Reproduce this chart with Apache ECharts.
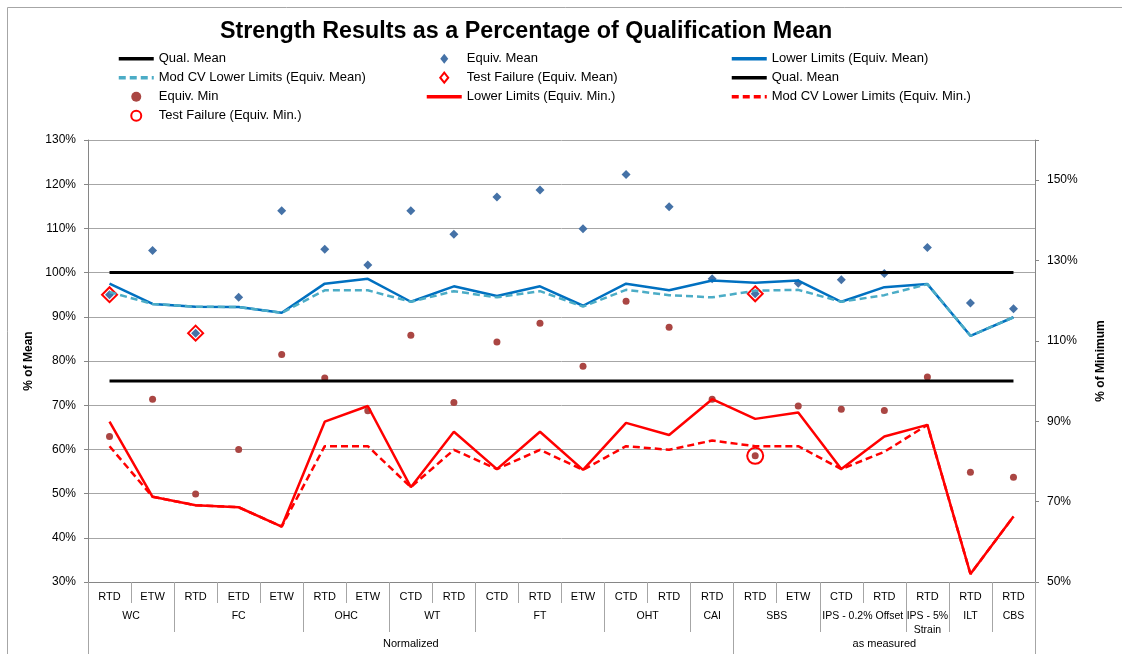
<!DOCTYPE html>
<html><head><meta charset="utf-8">
<script src="https://cdn.jsdelivr.net/npm/echarts@6/dist/echarts.min.js"></script>
<style>html,body{margin:0;padding:0;background:#fff}#c{width:1122px;height:654px}</style>
</head><body><div id="c"></div>
<script>
// ---- data ----
const categories = ['RTD','ETW','RTD','ETD','ETW','RTD','ETW','CTD','RTD','CTD','RTD','ETW','CTD','RTD','RTD','RTD','ETW','CTD','RTD','RTD','RTD','RTD'];
const groupNames = ['WC','FC','OHC','WT','FT','OHT','CAI','SBS','IPS - 0.2% Offset','IPS - 5%\nStrain','ILT','CBS'];
const groupSizes = [2,3,2,2,3,2,1,2,2,1,1,1];
const sectionNames = ['Normalized','as measured'];
const sectionSizes = [15,7];

const leftTicks = [30,40,50,60,70,80,90,100,110,120,130];
const rightTicks = [50,70,90,110,130,150];

const qualMeanLeft = [100,100,100,100,100,100,100,100,100,100,100,100,100,100,100,100,100,100,100,100,100,100];
const equivMean = [95.0,105.0,86.3,94.4,114.0,105.3,101.7,114.0,108.7,117.1,118.7,109.9,122.2,114.9,98.6,95.2,97.6,98.4,99.8,105.7,93.1,91.8];
const lowerLimitsMean = [97.5,92.9,92.3,92.2,90.9,97.5,98.6,93.4,96.9,94.7,96.9,92.5,97.5,96.0,98.2,97.7,98.2,93.4,96.7,97.4,85.7,89.9];
const modCvLowerMean = [95.6,92.9,92.3,92.2,90.9,96.0,96.0,93.4,95.8,94.4,95.8,92.3,96.1,94.9,94.4,95.9,96.1,93.4,94.9,97.4,85.7,89.9];
const testFailureMean = [95.0,null,86.3,null,null,null,null,null,null,null,null,null,null,null,null,95.2,null,null,null,null,null,null];

const qualMeanRight = [100,100,100,100,100,100,100,100,100,100,100,100,100,100,100,100,100,100,100,100,100,100];
const equivMin = [86.2,95.5,71.9,83.0,106.6,100.8,92.6,111.4,94.7,109.7,114.4,103.7,119.9,113.4,95.5,81.4,93.8,93.0,92.7,101.0,77.3,76.1];
const lowerLimitsMin = [89.9,71.2,69.1,68.6,63.8,89.9,93.8,73.6,87.4,78.1,87.4,77.9,89.6,86.6,95.5,90.6,92.2,78.1,86.2,89.1,52.0,66.3];
const modCvLowerMin = [83.8,71.2,69.1,68.6,63.8,83.8,83.8,73.6,82.9,78.1,82.9,77.9,83.8,82.9,85.2,83.8,83.8,78.1,82.4,89.1,52.0,66.3];
const testFailureMin = [null,null,null,null,null,null,null,null,null,null,null,null,null,null,null,81.4,null,null,null,null,null,null];

// ---- helpers ----
const FONT = "'Liberation Sans', Arial, sans-serif";
function pairs(arr){ const out=[]; arr.forEach((v,i)=>{ if(v!=null) out.push([i,v]); }); return out; }
function buildLevel(names, sizes){
  const n = categories.length;
  const labels = new Array(2*n+1).fill('');
  const bounds = new Set([0]);
  let a = 0;
  names.forEach((nm,g)=>{
    const b = a + sizes[g] - 1;
    labels[a+b+1] = nm;
    bounds.add(2*a); bounds.add(2*(b+1));
    a = b+1;
  });
  return {labels, bounds};
}
const lvl2 = buildLevel(groupNames, groupSizes);
const lvl3 = buildLevel(sectionNames, sectionSizes);

const displayNames = {'Qual. Mean (min)':'Qual. Mean'};
const legendFmt = n => displayNames[n] || n;

const AXIS = '#868686', GRIDC = '#A6A6A6';
const DIAMOND = 'path://M4,0L8,5L4,10L0,5Z';
const lineItem = name => ({name, itemStyle:{opacity:0}});

const chart = echarts.init(document.getElementById('c'), null, {renderer:'canvas'});
const legendBase = {orient:'vertical', itemWidth:35, itemHeight:10, itemGap:5, padding:0, selectedMode:false,
  symbolKeepAspect:true, lineStyle:{width:3.5},
  formatter: legendFmt, textStyle:{fontSize:13, fontFamily:FONT, color:'#000', lineHeight:14}};

const option = {
  animation:false,
  backgroundColor:'#fff',
  title:{text:'Strength Results as a Percentage of Qualification Mean', left:220, top:20, padding:0,
    textStyle:{fontSize:23.3, fontWeight:'bold', fontFamily:FONT, color:'#000'}},
  legend:[
    Object.assign({}, legendBase, {left:117, top:51.7, data:[lineItem('Qual. Mean'), lineItem('Mod CV Lower Limits (Equiv. Mean)'), {name:'Equiv. Min'}, {name:'Test Failure (Equiv. Min.)'}]}),
    Object.assign({}, legendBase, {left:425, top:51.7, data:[{name:'Equiv. Mean', icon:DIAMOND}, {name:'Test Failure (Equiv. Mean)', icon:DIAMOND}, lineItem('Lower Limits (Equiv. Min.)')]}),
    Object.assign({}, legendBase, {left:730, top:51.7, data:[lineItem('Lower Limits (Equiv. Mean)'), lineItem('Qual. Mean (min)'), lineItem('Mod CV Lower Limits (Equiv. Min.)')]})
  ],
  graphic:[{type:'rect', silent:true, shape:{x:7.5,y:7.5,width:1300,height:800}, style:{fill:'none', stroke:'#A6A6A6', lineWidth:1}}],
  grid:{left:88, right:87, top:140, bottom:72, containLabel:false, outerBoundsMode:'none'},
  xAxis:[
    {type:'category', data:categories, boundaryGap:true, position:'bottom',
      axisLine:{show:true, lineStyle:{color:AXIS, width:1}},
      axisTick:{show:true, interval:0, length:21, inside:false, lineStyle:{color:GRIDC}},
      axisLabel:{interval:0, margin:8, fontSize:11, fontFamily:FONT, color:'#000', lineHeight:14},
      splitLine:{show:false}},
    {type:'category', data:lvl2.labels, boundaryGap:false, position:'bottom', gridIndex:0,
      axisLine:{show:false},
      axisTick:{show:true, interval:(i)=>lvl2.bounds.has(i), length:50, lineStyle:{color:GRIDC}},
      axisLabel:{interval:0, margin:27, fontSize:10.5, fontFamily:FONT, color:'#000', lineHeight:14},
      splitLine:{show:false}},
    {type:'category', data:lvl3.labels, boundaryGap:false, position:'bottom', gridIndex:0,
      axisLine:{show:false},
      axisTick:{show:true, interval:(i)=>lvl3.bounds.has(i), length:72, lineStyle:{color:GRIDC}},
      axisLabel:{interval:0, margin:55, fontSize:11, fontFamily:FONT, color:'#000', lineHeight:14},
      splitLine:{show:false}}
  ],
  yAxis:[
    {type:'value', min:leftTicks[0], max:leftTicks[leftTicks.length-1], interval:10, position:'left',
      name:'% of Mean', nameLocation:'middle', nameRotate:90, nameGap:53,
      nameTextStyle:{fontSize:12, fontWeight:'bold', fontFamily:FONT, color:'#000'},
      axisLine:{show:true, lineStyle:{color:AXIS}},
      axisTick:{show:true, length:4, lineStyle:{color:AXIS}},
      axisLabel:{margin:12, fontSize:12, fontFamily:FONT, color:'#000', formatter:'{value}%'},
      splitLine:{show:true, lineStyle:{color:GRIDC, width:1}}},
    {type:'value', min:rightTicks[0], max:160, interval:20, position:'right',
      name:'% of Minimum', nameLocation:'middle', nameRotate:90, nameGap:60,
      nameTextStyle:{fontSize:12, fontWeight:'bold', fontFamily:FONT, color:'#000'},
      axisLine:{show:true, lineStyle:{color:AXIS}},
      axisTick:{show:true, length:4, lineStyle:{color:AXIS}},
      axisLabel:{margin:12, fontSize:12, fontFamily:FONT, color:'#000',
        formatter:(v)=> rightTicks.indexOf(v)>=0 ? v+'%' : ''},
      splitLine:{show:false}}
  ],
  series:[
    {name:'Qual. Mean', type:'line', yAxisIndex:0, data:qualMeanLeft, symbol:'none',
      lineStyle:{color:'#000', width:3}, itemStyle:{color:'#000'}},
    {name:'Equiv. Mean', type:'scatter', yAxisIndex:0, data:pairs(equivMean), symbol:'diamond', symbolSize:9,
      itemStyle:{color:'#4572A7', opacity:1}},
    {name:'Lower Limits (Equiv. Mean)', type:'line', yAxisIndex:0, data:lowerLimitsMean, symbol:'none',
      lineStyle:{color:'#0070C0', width:2.5}, itemStyle:{color:'#0070C0'}},
    {name:'Mod CV Lower Limits (Equiv. Mean)', type:'line', yAxisIndex:0, data:modCvLowerMean, symbol:'none',
      lineStyle:{color:'#4BACC6', width:2.5, type:[7,4]}, itemStyle:{color:'#4BACC6'}},
    {name:'Test Failure (Equiv. Mean)', type:'scatter', yAxisIndex:0, data:pairs(testFailureMean), symbol:'diamond', symbolSize:15,
      itemStyle:{color:'rgba(0,0,0,0)', borderColor:'#FF0000', borderWidth:2, opacity:1}},
    {name:'Qual. Mean (min)', type:'line', yAxisIndex:1, data:qualMeanRight, symbol:'none',
      lineStyle:{color:'#000', width:3}, itemStyle:{color:'#000'}},
    {name:'Equiv. Min', type:'scatter', yAxisIndex:1, data:pairs(equivMin), symbol:'circle', symbolSize:7,
      itemStyle:{color:'#AA4643', opacity:1}},
    {name:'Lower Limits (Equiv. Min.)', type:'line', yAxisIndex:1, data:lowerLimitsMin, symbol:'none',
      lineStyle:{color:'#FF0000', width:2.5}, itemStyle:{color:'#FF0000'}},
    {name:'Mod CV Lower Limits (Equiv. Min.)', type:'line', yAxisIndex:1, data:modCvLowerMin, symbol:'none',
      lineStyle:{color:'#FF0000', width:2.5, type:[7,4]}, itemStyle:{color:'#FF0000'}},
    {name:'Test Failure (Equiv. Min.)', type:'scatter', yAxisIndex:1, data:pairs(testFailureMin), symbol:'circle', symbolSize:16,
      itemStyle:{color:'rgba(0,0,0,0)', borderColor:'#FF0000', borderWidth:2, opacity:1}}
  ]
};
chart.setOption(option);
</script></body></html>
